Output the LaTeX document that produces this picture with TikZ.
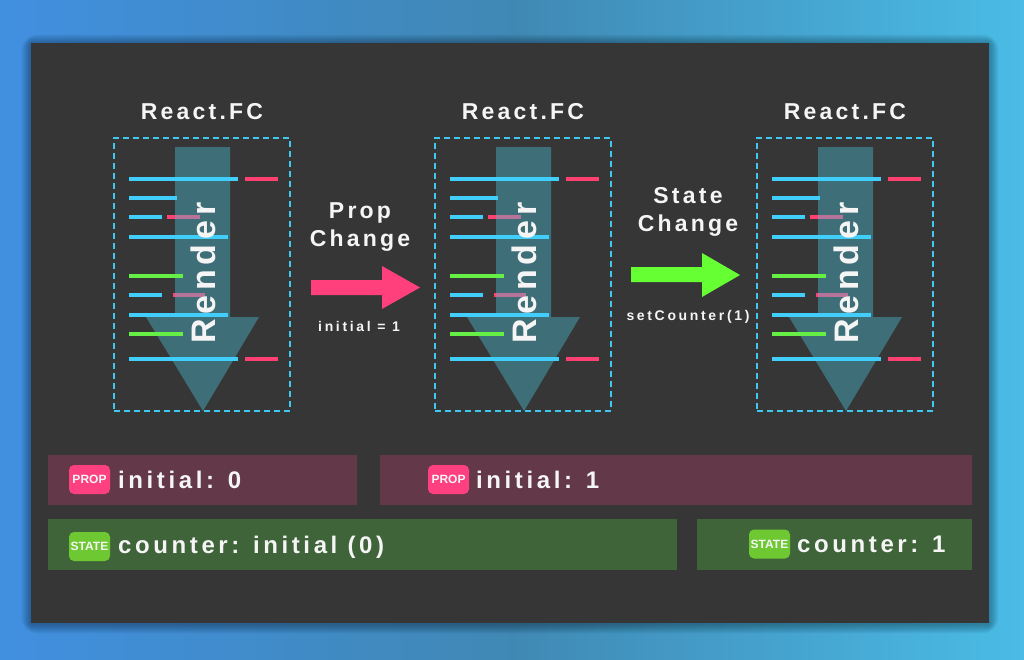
\documentclass[tikz,border=0pt]{standalone}
\usepackage{fontspec}
\setmainfont{Liberation Sans}
\newfontfamily\spc[LetterSpace=14]{Liberation Sans}
\newfontfamily\spcb[LetterSpace=15]{Liberation Sans}
\newfontfamily\spcs[LetterSpace=19]{Liberation Sans}
\definecolor{bgL}{RGB}{65,143,224}
\definecolor{bgM}{RGB}{64,136,180}
\definecolor{bgR}{RGB}{74,188,230}
\definecolor{panel}{RGB}{54,54,54}
\definecolor{dashc}{RGB}{64,200,240}
\definecolor{lblue}{RGB}{66,206,250}
\definecolor{lpink}{RGB}{255,64,112}
\definecolor{lgreen}{RGB}{102,240,70}
\definecolor{arrowc}{RGB}{74,194,219}
\definecolor{apink}{RGB}{255,64,125}
\definecolor{agreen}{RGB}{102,255,51}
\definecolor{propbar}{RGB}{99,56,72}
\definecolor{statebar}{RGB}{64,100,58}
\definecolor{propbadge}{RGB}{255,64,128}
\definecolor{statebadge}{RGB}{110,200,50}
\definecolor{txt}{RGB}{245,245,245}
\tikzset{
  codeline/.style={line width=3.3pt},
  bl/.style={codeline, lblue},
  pk/.style={codeline, lpink},
  gr/.style={codeline, lgreen},
  dashbox/.style={draw=dashc, line width=2pt, dash pattern=on 6pt off 4pt},
  title/.style={text=txt, font=\spc\bfseries\fontsize{23}{23}\selectfont, inner sep=0pt},
  rendertxt/.style={text=txt, font=\spc\bfseries\fontsize{34}{34}\selectfont, inner sep=0pt, rotate=90},
  changetxt/.style={text=txt, font=\spc\bfseries\fontsize{23}{28}\selectfont, inner sep=0pt, align=center},
  smalltxt/.style={text=txt, font=\spcs\bfseries\fontsize{14}{14}\selectfont, inner sep=0pt},
  bar/.style={inner sep=0pt, draw=none},
  badge/.style={rounded corners=5pt, inner sep=0pt, minimum width=41pt, minimum height=29pt, text=txt, font=\bfseries\fontsize{12}{12}\selectfont},
  bartxt/.style={text=txt, font=\spcb\bfseries\fontsize{24}{24}\selectfont, inner sep=0pt, anchor=west},
  fcpanel/.pic={
    \node[title] (-title) at (88,-26) {React.FC};
    \draw[pk] (131,41) -- (164,41);
    \draw[pk] (53,79) -- (86,79);
    \draw[pk] (59,157) -- (91,157);
    \draw[pk] (131,221) -- (164,221);
    \fill[arrowc, fill opacity=0.4] (61,9) -- (116,9) -- (116,179) -- (145,179) -- (89,273) -- (32,179) -- (61,179) -- cycle;
    \draw[bl] (15,41) -- (124,41);
    \draw[bl] (15,60) -- (63,60);
    \draw[bl] (15,79) -- (48,79);
    \draw[bl] (15,99) -- (114,99);
    \draw[gr] (15,138) -- (69,138);
    \draw[bl] (15,157) -- (48,157);
    \draw[bl] (15,177) -- (114,177);
    \draw[gr] (15,196) -- (69,196);
    \draw[bl] (15,221) -- (124,221);
    \node[rendertxt] (-render) at (89,135) {Render};
    \node[dashbox, minimum width=176pt, minimum height=273pt, inner sep=0pt] (-box) at (88,136.5) {};
  }
}
\begin{document}
\begin{tikzpicture}[x=1pt,y=-1pt]
\useasboundingbox (0,0) rectangle (1024,659);
\shade[left color=bgL, right color=bgR, middle color=bgM] (0,0) rectangle (1024,659);
% soft shadow
\foreach \e in {1,...,16} {
  \fill[black, fill opacity=0.02, rounded corners=\e pt] (31-0.6*\e,43-0.6*\e+1) rectangle (989+0.6*\e,623+0.6*\e+1);
}
\node[fill=panel, draw=none, inner sep=0pt, minimum width=958pt, minimum height=580pt] (panel) at (510,333) {};

\pic (p1) at (114,138) {fcpanel};
\pic (p2) at (435,138) {fcpanel};
\pic (p3) at (757,138) {fcpanel};

% Prop change
\node[changetxt] (proptxt) at (360,227) {Prop\\Change};
\fill[apink] (311,280) -- (382,280) -- (382,266) -- (420,287.5) -- (382,309) -- (382,295) -- (311,295) -- cycle;
\node[smalltxt] (propsub) at (359,326) {initial = 1};

% State change
\node[changetxt] (statetxt) at (688,212) {State\\Change};
\fill[agreen] (631,267) -- (702,267) -- (702,253) -- (740,275) -- (702,297) -- (702,282) -- (631,282) -- cycle;
\node[smalltxt] (statesub) at (688,317) {setCounter(1)};

% bars
\node[bar, fill=propbar, minimum width=309pt, minimum height=50pt] (pb1) at (202.5,480) {};
\node[bar, fill=propbar, minimum width=592pt, minimum height=50pt] (pb2) at (676,480) {};
\node[bar, fill=statebar, minimum width=629pt, minimum height=51pt] (sb1) at (362.5,544.5) {};
\node[bar, fill=statebar, minimum width=275pt, minimum height=51pt] (sb2) at (834.5,544.5) {};

\node[badge, fill=propbadge] (b1) at (89.5,479.5) {PROP};
\node[bartxt] (t1) at (118,480) {initial: 0};
\node[badge, fill=propbadge] (b2) at (448.5,479.5) {PROP};
\node[bartxt] (t2) at (476,480) {initial: 1};
\node[badge, fill=statebadge] (b3) at (89.5,546.5) {STATE};
\node[bartxt] (t3) at (118,547) {counter: initial (0)};
\node[badge, fill=statebadge] (b4) at (769.5,544) {STATE};
\node[bartxt] (t4) at (797,544) {counter: 1};
\end{tikzpicture}
\end{document}
